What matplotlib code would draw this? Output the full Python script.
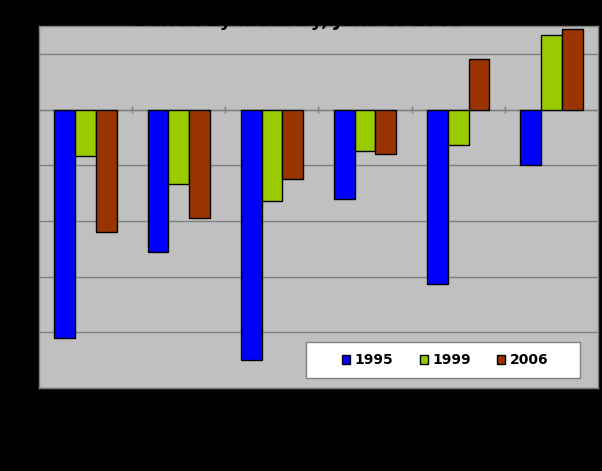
import numpy as np
import matplotlib
matplotlib.use("Agg")
import matplotlib.pyplot as plt
from matplotlib.patches import Rectangle

# values (change, step 5 per gridline)
categories = ["A", "B", "C", "D", "E", "F"]
years = ["1995", "1999", "2006"]
v1995 = [-20.5, -12.8, -22.45, -8.0, -15.7, -5.0]
v1999 = [-4.2, -6.7, -8.2, -3.7, -3.2, 6.7]
v2006 = [-11.0, -9.75, -6.2, -4.0, 4.5, 7.25]
colors = ["#0000FF", "#99CC00", "#993300"]

fig = plt.figure(figsize=(6.02, 4.71), dpi=100, facecolor="black")
ax = fig.add_axes([39 / 602, 1 - 388 / 471, 559 / 602, 362 / 471])
ax.set_facecolor("#C0C0C0")

x = np.arange(len(categories))
w = 0.223
for i, (vals, lab) in enumerate(zip([v1995, v1999, v2006], years)):
    ax.bar(x + (i - 1) * w, vals, w, color=colors[i], edgecolor="black",
           linewidth=1, label=lab, zorder=3)

ax.set_xlim(-0.5, 5.5)
ax.set_ylim(-25, 7.5)
ax.set_yticks(np.arange(-25, 10, 5))
ax.yaxis.grid(True, color="#808080", linewidth=1, zorder=1)
ax.axhline(0, color="#808080", linewidth=1, zorder=2)
# small category tick marks on the zero line
ax.vlines(x[:-1] + 0.5, -0.35, 0.35, color="#808080", linewidth=1, zorder=2)
ax.set_xticks([])
ax.tick_params(axis="y", colors="black", labelcolor="black", length=0)
for s in ax.spines.values():
    s.set_color("#808080")
    s.set_linewidth(1)

# title is black on the black background, only its tail shows on the grey
fig.text(0.495, 1 - 26 / 471, "Deficit by Industry, June to 2006",
         ha="center", va="baseline", fontsize=13, fontweight="bold", color="black")

# legend box drawn by hand to get Excel-like padding
ax.add_patch(Rectangle((306 / 602, 1 - 378 / 471), 274 / 602, 36 / 471,
                       transform=fig.transFigure, facecolor="white",
                       edgecolor="#808080", linewidth=1, zorder=4, clip_on=False))
leg = ax.legend(loc="center", bbox_to_anchor=(445 / 602, 1 - 360 / 471),
                bbox_transform=fig.transFigure, ncol=3, frameon=False,
                prop={"weight": "bold", "size": 10},
                handlelength=0.6, handleheight=0.6, handletextpad=0.3,
                columnspacing=1.9)
leg.set_zorder(5)

fig.savefig("out.png", dpi=100, facecolor="black")
